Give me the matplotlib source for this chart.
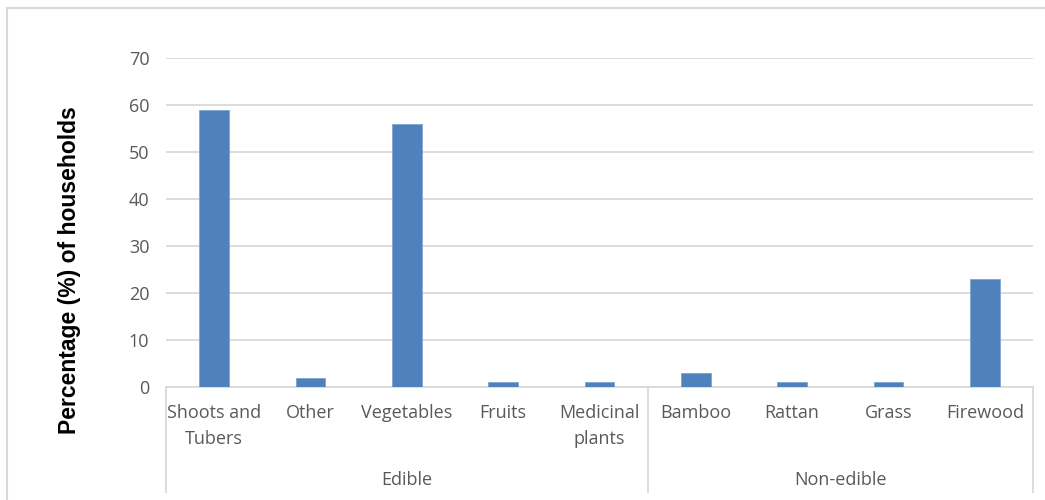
import matplotlib
matplotlib.use("Agg")
import matplotlib.pyplot as plt
from matplotlib.patches import Rectangle
from matplotlib.lines import Line2D
import matplotlib.transforms as mtransforms

categories = ["Shoots and\nTubers", "Other", "Vegetables", "Fruits", "Medicinal\nplants",
              "Bamboo", "Rattan", "Grass", "Firewood"]
values = [59, 2, 56, 1, 1, 3, 1, 1, 23]
groups = ["Edible", "Non-edible"]
group_sizes = [5, 4]
yticks = [0, 10, 20, 30, 40, 50, 60, 70]
ylabel = "Percentage (%) of households"

W, H = 1045, 500
fig = plt.figure(figsize=(W / 100, H / 100), dpi=100)
ax = fig.add_axes([166 / W, 1 - 387 / H, (1033 - 166) / W, (387 - 58) / H])

label_font = "Open Sans"
gray = "#595959"
linec = "#D9D9D9"
fs = 13

x = list(range(len(categories)))
ax.bar(x, values, width=0.31, color="#4F81BD", edgecolor="#7FA3D1", linewidth=0.6, zorder=3)
ax.set_xlim(-0.5, len(categories) - 0.5)
ax.set_ylim(0, 70)
ax.set_yticks(yticks)
ax.set_yticklabels([str(t) for t in yticks], fontfamily=label_font, fontsize=fs, color=gray)
ax.tick_params(axis="y", length=0, pad=12)
ax.set_xticks([])
for s in ["top", "right", "left"]:
    ax.spines[s].set_visible(False)
ax.spines["bottom"].set_color(linec)
ax.spines["bottom"].set_linewidth(1.3)
ax.yaxis.grid(True, color=linec, linewidth=1.3, zorder=0)
ax.set_axisbelow(True)

# category labels
tr = mtransforms.blended_transform_factory(ax.transData, fig.transFigure)
for xi, c in zip(x, categories):
    ax.text(xi, 1 - 404 / H, c, transform=tr, ha="center", va="top",
            fontfamily=label_font, fontsize=fs, color=gray, linespacing=1.55)

# group labels and separators
start = 0
bounds = [-0.5]
for g, n in zip(groups, group_sizes):
    center = start + (n - 1) / 2
    ax.text(center, 1 - 480 / H, g, transform=tr, ha="center", va="center",
            fontfamily=label_font, fontsize=fs, color=gray)
    start += n
    bounds.append(start - 0.5)
for b in bounds:
    fig.add_artist(Line2D([b, b], [1 - 387 / H, 1 - 492 / H], transform=tr,
                          color=linec, linewidth=1.3))

ax.set_ylabel(ylabel, fontfamily="Liberation Sans", fontweight="bold", fontsize=16.5,
              color="black")
ax.yaxis.set_label_coords(70 / W, 1 - 270 / H, transform=fig.transFigure)
ax.yaxis.label.set_va("center")

# figure border
fig.add_artist(Rectangle((7 / W, -0.1), 1.2, 1 - 8 / H + 0.1, transform=fig.transFigure,
                         fill=False, edgecolor=linec, linewidth=1.5))

fig.savefig("out.png", dpi=100)
